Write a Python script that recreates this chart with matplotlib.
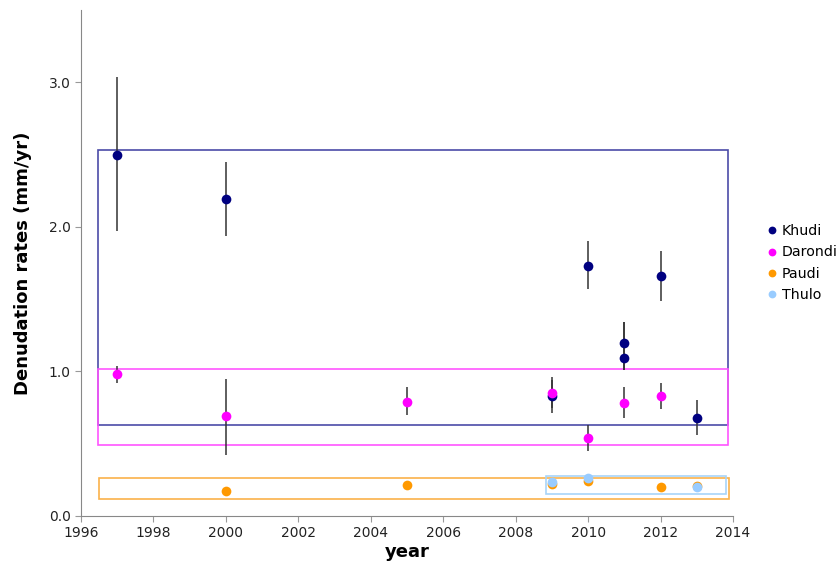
import matplotlib.pyplot as plt
from matplotlib.patches import Rectangle

# ── Data ──────────────────────────────────────────────────────────────────────
khudi_year = [1997, 2000, 2009, 2010, 2011, 2011, 2012, 2013]
khudi_rate = [2.50, 2.19, 0.83, 1.73, 1.20, 1.09, 1.66, 0.68]
khudi_lo   = [1.97, 1.94, 0.71, 1.57, 1.01, 1.01, 1.49, 0.56]
khudi_hi   = [3.04, 2.45, 0.96, 1.90, 1.34, 1.34, 1.83, 0.80]

dar_year = [1997, 2000, 2005, 2009, 2010, 2011, 2012]
dar_rate = [0.98, 0.69, 0.79, 0.85, 0.54, 0.78, 0.83]
dar_lo   = [0.92, 0.42, 0.70, 0.75, 0.45, 0.68, 0.74]
dar_hi   = [1.04, 0.95, 0.89, 0.94, 0.63, 0.89, 0.92]

paudi_year = [2000, 2005, 2009, 2010, 2012, 2013]
paudi_rate = [0.17, 0.215, 0.22, 0.245, 0.20, 0.205]

thulo_year = [2009, 2010, 2013]
thulo_rate = [0.238, 0.26, 0.203]

# range boxes: (x0, x1, y0, y1)
box_khudi = (1996.47, 2013.85, 0.63, 2.53)
box_dar   = (1996.47, 2013.85, 0.49, 1.015)
box_paudi = (1996.5, 2013.88, 0.118, 0.263)
box_thulo = (2008.85, 2013.82, 0.153, 0.277)

C_KH = "#000080"
C_DA = "#FF00FF"
C_PA = "#FF9900"
C_TH = "#99CCFF"

fig = plt.figure(figsize=(8.38, 5.73), dpi=100)
ax = fig.add_axes([0.0967, 0.0995, 0.778, 0.883])

def box(b, color):
    x0, x1, y0, y1 = b
    ax.add_patch(Rectangle((x0, y0), x1 - x0, y1 - y0, fill=False,
                           edgecolor=color, linewidth=1.2, zorder=1))

box(box_khudi, "#4B4BA8")
box(box_dar,   "#FF55FF")
box(box_paudi, "#FBB24A")
box(box_thulo, "#A8D4F8")

def errs(x, lo, hi):
    ax.vlines(x, lo, hi, color="#333333", linewidth=1.1, zorder=2)

errs(khudi_year, khudi_lo, khudi_hi)
errs(dar_year, dar_lo, dar_hi)

MK = dict(marker="o", linestyle="none", markersize=7, markeredgewidth=0, zorder=3)
ax.plot(khudi_year, khudi_rate, color=C_KH, label="Khudi", **MK)
ax.plot(dar_year, dar_rate, color=C_DA, label="Darondi", **MK)
ax.plot(paudi_year, paudi_rate, color=C_PA, label="Paudi", **MK)
ax.plot(thulo_year, thulo_rate, color=C_TH, label="Thulo", **MK)

ax.set_xlim(1996, 2014)
ax.set_ylim(0, 3.5)
ax.set_xticks(range(1996, 2015, 2))
ax.set_yticks([0, 1, 2, 3])
ax.set_yticklabels(["0.0", "1.0", "2.0", "3.0"])
ax.tick_params(labelsize=10, colors="#222222", length=4, width=0.8)
ax.tick_params(axis="both", color="#999999")

for s in ["top", "right"]:
    ax.spines[s].set_visible(False)
for s in ["left", "bottom"]:
    ax.spines[s].set_color("#888888")

ax.set_xlabel("year", fontsize=13, fontweight="bold", labelpad=2)
ax.set_ylabel("Denudation rates (mm/yr)", fontsize=13, fontweight="bold", labelpad=12)

leg = fig.legend(*ax.get_legend_handles_labels(), loc="center left",
                 bbox_to_anchor=(765 / 838, 1 - 263 / 573), frameon=False,
                 fontsize=10.2, handletextpad=0.2, labelspacing=0.5,
                 handlelength=1.0, borderpad=0, borderaxespad=0, markerscale=0.8)

fig.savefig("out.png", dpi=100)
